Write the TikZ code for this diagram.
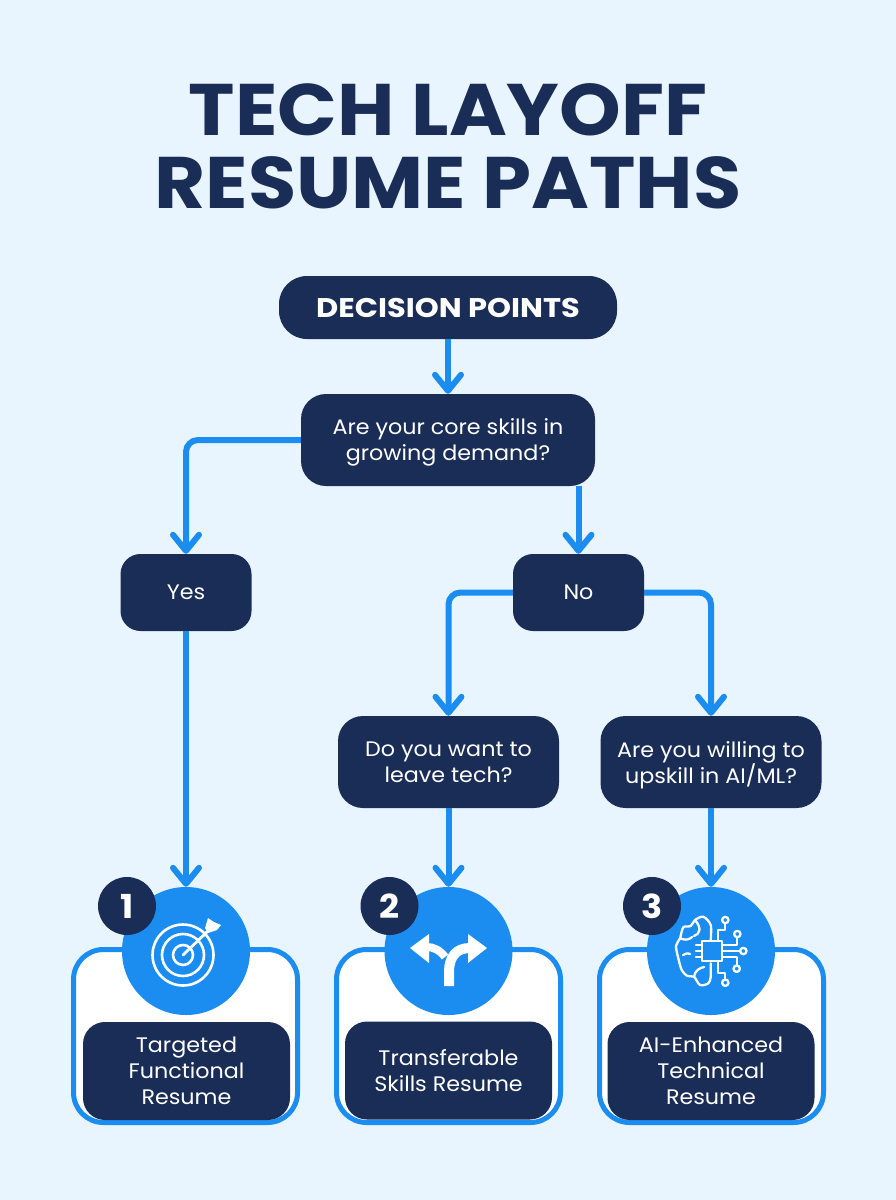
\documentclass[tikz,border=0pt]{standalone}
\usepackage{fontspec}
\setmainfont[FakeStretch=1.06]{Poppins}
\newfontfamily\titlefont[FakeStretch=1.075]{Poppins}
\newfontfamily\headfont[FakeStretch=1.13]{Poppins}
\usetikzlibrary{arrows.meta}

\definecolor{navy}{HTML}{1A2D57}
\definecolor{flow}{HTML}{1B8DF1}
\definecolor{paper}{HTML}{E8F5FF}

\tikzset{
    box/.style={shape=rectangle, rounded corners=25pt, fill=navy, text=white, align=center,
        inner sep=0pt, text depth=0pt, font=\fontsize{21}{26}\selectfont},
    question/.style={box, minimum width=#1, minimum height=92pt},
    answer/.style={box, rounded corners=20pt, minimum width=131pt, minimum height=77pt},
    card/.style={shape=rectangle, rounded corners=30pt, draw=flow, fill=white, line width=5pt,
        minimum width=224pt, minimum height=173pt},
    result/.style={box, rounded corners=22pt, minimum width=207pt, minimum height=98pt},
    disc/.style={shape=circle, fill=flow, inner sep=0pt, minimum size=128pt},
    badge/.style={shape=circle, fill=navy, text=white, inner sep=0pt, minimum size=58pt,
        font=\fontsize{33}{33}\selectfont\bfseries},
    link/.style={draw=flow, line width=6pt, rounded corners=12pt,
        -{Straight Barb[length=16pt, width=26pt, line width=6pt, round]}},
    icon/.style={draw=white, line width=2.3pt, line cap=round, line join=round},
}

\begin{document}
\begin{tikzpicture}[x=1pt, y=-1pt]
    \fill[paper] (0, 0) rectangle (896, 1200);
    \useasboundingbox (0, 0) rectangle (896, 1200);

    % title
    \node[text=navy, align=center, font=\titlefont\fontsize{73}{73}\selectfont\bfseries] (title) at (448, 146.5)
        {TECH LAYOFF\\RESUME PATHS};

    % flow boxes
    \node[box, rounded corners=28pt, minimum width=338pt, minimum height=63pt,
        font=\headfont\fontsize{27}{30}\selectfont\bfseries] (points) at (448, 307.5) {DECISION POINTS};
    \node[question=294pt] (core) at (448, 440) {Are your core skills in\\growing demand?};
    \node[answer] (yes) at (186, 592.5) {Yes};
    \node[answer] (no) at (578.5, 592.5) {No};
    \node[question=221pt] (leave) at (448.5, 762) {Do you want to\\leave tech?};
    \node[question=221pt] (upskill) at (711, 762) {Are you willing to\\upskill in AI/ML?};

    % resume cards
    \node[card] (card1) at (185.5, 1036) {};
    \node[card] (card2) at (448.5, 1036) {};
    \node[card] (card3) at (711.5, 1036) {};
    \node[result] (label1) at (186.5, 1071) {Targeted\\Functional\\Resume};
    \node[result] (label2) at (448.5, 1070.5) {Transferable\\Skills Resume};
    \node[result] (label3) at (711, 1071) {AI-Enhanced\\Technical\\Resume};
    \node[disc] (disc1) at (186, 951) {};
    \node[disc] (disc2) at (448.5, 951) {};
    \node[disc] (disc3) at (711, 951) {};
    \node[badge] (badge1) at (127, 906) {1};
    \node[badge] (badge2) at (389.5, 906) {2};
    \node[badge] (badge3) at (652, 906) {3};

    % connectors
    \path [link] (points) -- (core);
    \draw [link] (core.west) -| (yes.north);
    \path [link] (core.south -| no.north) -- (no.north);
    \draw [link] (no.west) -| (leave.north);
    \draw [link] (no.east) -| (upskill.north);
    \path [link] (yes) -- (disc1);
    \path [link] (leave) -- (disc2);
    \path [link] (upskill) -- (disc3);

    % target icon
    \draw[icon, line width=2.6pt] (183, 955) circle (30.5) circle (21) circle (10);
    \draw[icon, line width=2.8pt] (183, 955) -- (209, 930);
    \fill[white] (205, 928) -- (208, 918) -- (214, 922) -- (221, 925) -- (217, 930) -- (208, 933) -- cycle;

    % split icon
    \fill[white] (410, 948) -- (429, 934) -- (429, 963) -- cycle;
    \fill[white] (487, 948) -- (468, 934) -- (468, 963) -- cycle;
    \draw[white, line width=10pt] (449, 986) -- (449, 972) .. controls (449, 957) and (456, 948) .. (470, 948);
    \draw[white, line width=8pt] (427, 947) .. controls (433, 947) and (440, 950) .. (445, 957);

    % brain icon
    \draw[icon] plot[smooth] coordinates {(710.7, 940) (710.7, 925) (703.3, 916.7) (695, 920) (690.7, 926)
        (683.3, 927.3) (680, 938.3) (676, 946) (678.3, 958.3) (681.7, 970) (687.3, 976) (694, 976.7)
        (700, 985) (708.3, 983.3) (710.7, 976.7) (710.7, 963.3)};
    \draw[icon] (695, 920) .. controls (702, 928) and (700, 934) .. (694, 936);
    \draw[icon] (680, 938.3) .. controls (686, 941) and (690, 939) .. (692, 937);
    \draw[icon] (683, 955) .. controls (687, 953) and (689, 953) .. (690, 954);
    \draw[icon] (694, 976.7) .. controls (695, 970) and (700, 968) .. (704, 967);
    \draw[icon] (702, 941) rectangle (722, 961);
    \draw[icon] (696, 945) -- (702, 945) (696, 951) -- (702, 951) (696, 957) -- (702, 957);
    \draw[icon] (718.3, 940) -- (718.3, 930) -- (725.3, 930) -- (725.3, 923.5);
    \draw[icon] (722, 945) -- (737.3, 945) -- (737.3, 937.5);
    \draw[icon] (722, 951) -- (739.5, 951);
    \draw[icon] (722, 957.3) -- (736.7, 957.3) -- (736.7, 965);
    \draw[icon] (718.3, 962) -- (718.3, 973.3) -- (725.3, 973.3) -- (725.3, 979);
    \foreach \cx/\cy in {725.3/920, 737.3/934, 743.3/951, 736.7/968.7, 725.3/982.7}
        \draw[icon] (\cx, \cy) circle (3.2);
\end{tikzpicture}
\end{document}
